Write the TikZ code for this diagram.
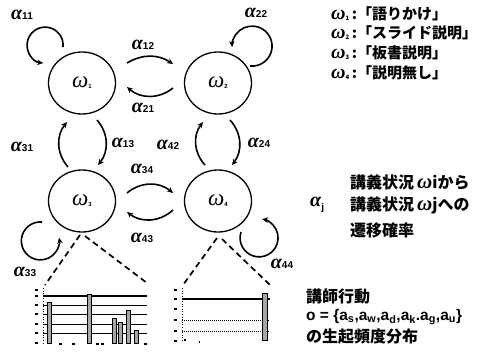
\documentclass[tikz,border=0pt]{standalone}
\usepackage{fontspec}
\setmainfont{Liberation Sans}
\newfontfamily\grk{Liberation Serif}
\newfontfamily\jpf{Noto Sans CJK JP}
\usetikzlibrary{arrows.meta,calc,shapes.geometric}

% state symbol omega_k (size, index)
\newcommand\wlab[2]{{\grk\bfseries\itshape\fontsize{#1}{#1}\selectfont ω}\raisebox{-1pt}{\fontsize{6}{6}\selectfont\bfseries #2}}
% state symbol inside the state circles
\newcommand\wnode[1]{{\grk\itshape\fontsize{23}{23}\selectfont ω}\raisebox{-1pt}{\fontsize{6}{6}\selectfont\bfseries #1}}
% transition probability alpha_ij
\newcommand\alab[1]{{\grk\bfseries\itshape\fontsize{20}{20}\selectfont α}{\fontsize{10}{10}\selectfont\bfseries #1}}
\newcommand\wtxt{{\grk\itshape\fontsize{21}{21}\selectfont ω}}

\begin{document}
\begin{tikzpicture}[x=1pt,y=-1pt,
  st/.style={ellipse, draw, line width=1.3pt, minimum width=67pt, minimum height=62pt, inner sep=0pt},
  tr/.style={line width=1.6pt, -{Stealth[length=6pt,width=5.5pt]}},
  lbl/.style={inner sep=0pt},
  dashline/.style={line width=1.7pt, dash pattern=on 6pt off 4pt},
  jp/.style={font={\jpf\bfseries\fontsize{16}{16}\selectfont}, inner sep=0pt, anchor=west},
  jpl/.style={font={\jpf\bfseries\fontsize{15}{15}\selectfont}, inner sep=0pt, anchor=west},
  grid/.style={line width=0.9pt},
  bar/.style={draw, line width=0.7pt, fill=black!35}
]
\useasboundingbox (0,0) rectangle (492,351);

% states
\node[st] (w1) at (82,83)  {\wnode{1}};
\node[st] (w2) at (218,83) {\wnode{2}};
\node[st] (w3) at (82,201) {\wnode{3}};
\node[st] (w4) at (218,201){\wnode{4}};

% self loops
\draw[tr] ($(w1)+(-19,-36)$) arc[start angle=-6, end angle=264, radius=18pt];
\draw[tr] ($(w2)+(32,-17)$) arc[start angle=-96, end angle=183, radius=20pt];
\draw[tr] ($(w3)+(-40,21)$) arc[start angle=85, end angle=370, radius=19pt];
\draw[tr] ($(w4)+(23,31)$) arc[start angle=-198, end angle=81, radius=19pt];

% transitions between states
\draw[tr] ($(w1)+(45,-20)$) to[bend left=32] ($(w2)+(-45,-19)$);
\draw[tr] ($(w2)+(-45,5)$)  to[bend left=40] ($(w1)+(45,4)$);
\draw[tr] ($(w3)+(45,-8)$)  to[bend left=40] ($(w4)+(-45,-8)$);
\draw[tr] ($(w4)+(-45,9)$)  to[bend left=40] ($(w3)+(45,11)$);
\draw[tr] ($(w1)+(15,37)$)  to[bend left=40] ($(w3)+(16,-36)$);
\draw[tr] ($(w3)+(-14,-34)$) to[bend left=40] ($(w1)+(-15,39)$);
\draw[tr] ($(w2)+(12,37)$)  to[bend left=40] ($(w4)+(14,-36)$);
\draw[tr] ($(w4)+(-13,-36)$) to[bend left=40] ($(w2)+(-15,39)$);

% transition labels
\node[lbl] (a11) at (22,15)  {\alab{11}};
\node[lbl] (a22) at (256,13) {\alab{22}};
\node[lbl] (a12) at (143,45) {\alab{12}};
\node[lbl] (a21) at (143,108){\alab{21}};
\node[lbl] (a31) at (22,147) {\alab{31}};
\node[lbl] (a13) at (123,143){\alab{13}};
\node[lbl] (a42) at (168,145){\alab{42}};
\node[lbl] (a24) at (259,143){\alab{24}};
\node[lbl] (a34) at (142,169){\alab{34}};
\node[lbl] (a43) at (142,238){\alab{43}};
\node[lbl] (a33) at (25,272) {\alab{33}};
\node[lbl] (a44) at (282,264){\alab{44}};

% histogram corners
\coordinate (h1l) at (45,285);
\coordinate (h1r) at (147,283);
\coordinate (h2l) at (183,285);
\coordinate (h2r) at (270,285);
\draw[dashline] ($(w3)+(-2,34)$) -- (h1l);
\draw[dashline] ($(w3)+(3,35)$) -- (h1r);
\draw[dashline] ($(w4)+(-1,37)$) -- (h2l);
\draw[dashline] ($(w4)+(4,38)$) -- (h2r);

% histogram of omega_3
\draw[line width=0.6pt, dotted] (43,288) -- (43,345);
\draw[grid, line width=1.2pt] (43,296) -- (147,296);
\foreach \yy in {305,314,324,333} \draw[grid] (43,\yy) -- (147,\yy);
\foreach \yy in {290,296,305,314,324,333,343} \draw[line width=1.2pt] (35,\yy) -- (38,\yy);
\foreach \xa/\xb/\yt in {47/51/302, 87/91/294, 112/116/318, 118/122/322, 126/130/310, 134/138/330}
  \draw[bar] (\xa,343) rectangle (\xb,\yt);
\foreach \xx in {60,73,97,102,145} \draw[line width=1.2pt] (\xx-1.5,344) -- (\xx+1.5,344);

% histogram of omega_4
\draw[line width=0.6pt, dotted] (182,288) -- (182,342);
\draw[line width=1.3pt, dash pattern=on 1.5pt off 0.5pt] (182,299) -- (270,299);
\foreach \yy in {320,331} \draw[line width=0.9pt, dash pattern=on 1pt off 1pt] (182,\yy) -- (270,\yy);
\foreach \yy in {290,299,309,320,331,341} \draw[line width=1.2pt] (174,\yy) -- (177,\yy);
\draw[bar] (262,340) rectangle (267,293);
\draw[line width=1.2pt] (184,340) -- (186,340) (199,342) -- (200,342);

% legend of lecture states
\node[jpl] (l1) at (331,14) {\wlab{20}{1}\,:「語りかけ」};
\node[jpl] (l2) at (331,33) {\wlab{20}{2}\,:「スライド説明」};
\node[jpl] (l3) at (331,53) {\wlab{20}{3}\,:「板書説明」};
\node[jpl] (l4) at (331,73) {\wlab{20}{4}\,:「説明無し」};

% meaning of alpha
\node[jp] (t1) at (350,182) {講義状況\hspace{3pt}\wtxt iから};
\node[lbl, anchor=west] (aj) at (310,205) {{\grk\bfseries\itshape\fontsize{20}{20}\selectfont α}\raisebox{-4pt}{\fontsize{10}{10}\selectfont\bfseries j}};
\node[jp] (t2) at (350,205) {講義状況\hspace{3pt}\wtxt jへの};
\node[jp] (t3) at (350,230) {遷移確率};

% meaning of histograms
\node[jp] (u1) at (306,296) {講師行動};
\node[lbl, anchor=west, font={\bfseries\fontsize{15.5}{15.5}\selectfont}] (u2) at (306,317)
  {o = \{a\textsubscript{s},a\textsubscript{w},a\textsubscript{d},a\textsubscript{k}.a\textsubscript{g},a\textsubscript{u}\}};
\node[jp] (u3) at (306,337) {の生起頻度分布};
\end{tikzpicture}
\end{document}
